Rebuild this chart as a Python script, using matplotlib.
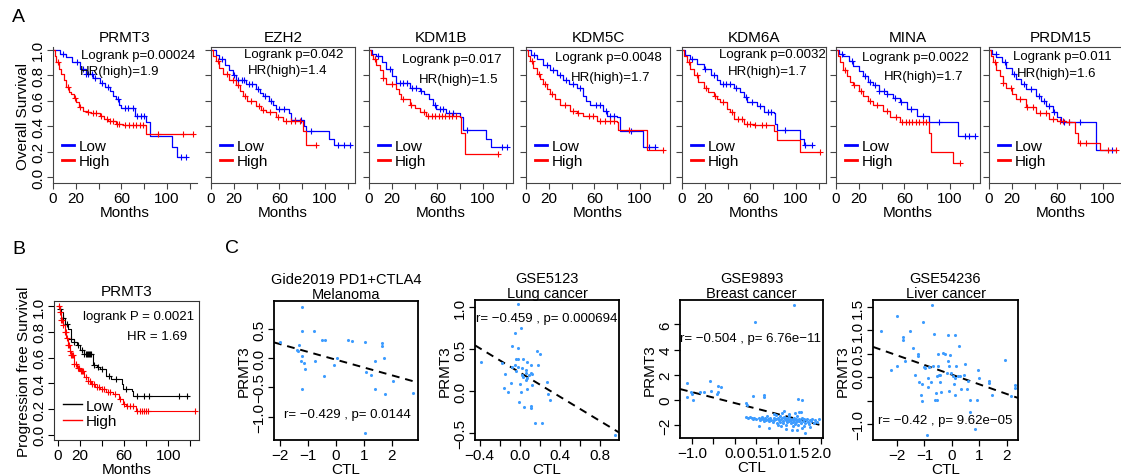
import numpy as np
import matplotlib.pyplot as plt
from matplotlib.lines import Line2D

plt.rcParams['font.family'] = ['Liberation Sans', 'DejaVu Sans']

W, H = 1121, 477

# ---------------- panel A: overall survival, (months, survival) steps ----------------
genes_a = ['PRMT3', 'EZH2', 'KDM1B', 'KDM5C', 'KDM6A', 'MINA', 'PRDM15']
logrank_a = ['0.00024', '0.042', '0.017', '0.0048', '0.0032', '0.0022', '0.011']
hr_a = ['1.9', '1.4', '1.5', '1.7', '1.7', '1.7', '1.6']

prmt3_low = [(0, 1.0), (6, 0.97), (11.7, 0.94), (17, 0.90), (23.4, 0.85), (29, 0.81), (35, 0.78),
             (41, 0.74), (46, 0.71), (50, 0.68), (53, 0.64), (55.5, 0.61), (58, 0.57), (60, 0.54),
             (71.6, 0.48), (82, 0.43), (84.8, 0.32), (104.7, 0.235), (108.8, 0.157), (117, 0.157)]
prmt3_high = [(0, 1.0), (1.5, 0.95), (2.9, 0.90), (5, 0.85), (7.3, 0.81), (9.5, 0.76), (11.7, 0.71),
              (14, 0.67), (16, 0.65), (18, 0.62), (20.5, 0.59), (23, 0.55), (26.3, 0.52), (30, 0.51),
              (33.6, 0.50), (41, 0.48), (45, 0.46), (48, 0.44), (55, 0.42), (61.4, 0.41), (81.9, 0.34),
              (123, 0.34)]
ezh2_low = [(0, 1.0), (4, 0.96), (7.3, 0.93), (12, 0.88), (16, 0.84), (19, 0.80), (22, 0.76), (30.7, 0.73),
            (39.5, 0.69), (43, 0.66), (45.3, 0.64), (51, 0.60), (54, 0.57), (57, 0.535), (68.7, 0.50),
            (70, 0.45), (81.9, 0.405), (83.3, 0.36), (103.8, 0.30), (108, 0.25), (122.8, 0.25)]
ezh2_high = [(0, 1.0), (2, 0.95), (4.4, 0.91), (7, 0.86), (10.2, 0.81), (16, 0.76), (22, 0.72), (25, 0.68),
             (27.8, 0.64), (32, 0.60), (39.5, 0.56), (44, 0.53), (48, 0.51), (57, 0.47), (62.9, 0.44),
             (81, 0.366), (83.3, 0.25), (92, 0.25)]
kdm1b_low = [(0, 1.0), (3, 0.97), (6.4, 0.95), (11, 0.90), (15.2, 0.85), (20, 0.79), (24, 0.74), (35.7, 0.70),
             (44.4, 0.68), (48, 0.65), (53, 0.61), (56, 0.57), (59, 0.535), (67.8, 0.50), (79.5, 0.47),
             (82.5, 0.37), (103, 0.30), (107, 0.235), (121, 0.235)]
kdm1b_high = [(0, 1.0), (1.5, 0.96), (3.5, 0.93), (6, 0.88), (9.4, 0.84), (12, 0.78), (15.2, 0.73), (24, 0.69),
              (26, 0.65), (28.4, 0.61), (35.7, 0.57), (40, 0.54), (44.4, 0.51), (50, 0.48), (79.5, 0.47),
              (81, 0.35), (84, 0.18), (113, 0.18)]
kdm5c_low = [(0, 1.0), (4, 0.96), (9.4, 0.93), (15, 0.88), (21, 0.84), (27, 0.80), (32.7, 0.76), (38, 0.73),
             (44.4, 0.70), (50.3, 0.64), (53, 0.60), (56, 0.57), (67.8, 0.52), (70.8, 0.48), (79.5, 0.47),
             (82.5, 0.36), (103, 0.235), (113, 0.235)]
kdm5c_high = [(0, 1.0), (1.5, 0.95), (3.5, 0.91), (6, 0.86), (9.4, 0.81), (12, 0.77), (15.2, 0.73), (18, 0.69),
              (21, 0.65), (25, 0.61), (29.8, 0.57), (38.6, 0.52), (45, 0.50), (50.3, 0.48), (62, 0.44),
              (79.5, 0.43), (81, 0.37), (106, 0.21), (120, 0.21)]
kdm6a_low = [(0, 1.0), (3, 0.96), (7.3, 0.93), (13, 0.89), (19, 0.85), (25, 0.80), (30.7, 0.76), (33.6, 0.73),
             (45.3, 0.70), (51, 0.67), (54, 0.63), (57, 0.59), (65.8, 0.56), (71.6, 0.51), (80.4, 0.50),
             (81.9, 0.42), (83.3, 0.37), (103.8, 0.30), (106.7, 0.255), (114, 0.255)]
kdm6a_high = [(0, 1.0), (2, 0.95), (4.4, 0.90), (7, 0.85), (10.2, 0.80), (14, 0.75), (19, 0.70), (23, 0.67),
              (27.8, 0.64), (31, 0.61), (33.6, 0.59), (39.5, 0.535), (42.4, 0.51), (45.3, 0.46), (54, 0.42),
              (62.9, 0.41), (80.4, 0.365), (83.3, 0.29), (103.2, 0.20), (121, 0.20)]
mina_low = [(0, 1.0), (3, 0.97), (6.4, 0.95), (11, 0.91), (15.2, 0.87), (20, 0.83), (24, 0.79), (28, 0.75),
            (32.7, 0.72), (38, 0.68), (44.4, 0.65), (50, 0.62), (56, 0.59), (62, 0.535), (70.8, 0.48),
            (81.9, 0.43), (107, 0.32), (122, 0.32)]
mina_high = [(0, 1.0), (1.5, 0.95), (3.5, 0.90), (6, 0.84), (9.4, 0.79), (12, 0.75), (15.2, 0.72), (20, 0.68),
             (24, 0.64), (28, 0.60), (32.7, 0.57), (41.5, 0.52), (47.4, 0.47), (56, 0.43), (81.3, 0.35),
             (83.3, 0.196), (103, 0.11), (108.8, 0.11)]
prdm15_low = [(0, 1.0), (3, 0.97), (6.4, 0.94), (11, 0.90), (15.2, 0.86), (20, 0.81), (24, 0.77), (28, 0.73),
              (32.7, 0.69), (41.5, 0.64), (46, 0.60), (50.3, 0.56), (56, 0.51), (60, 0.47), (63.5, 0.43),
              (94.2, 0.21), (111.7, 0.21)]
prdm15_high = [(0, 1.0), (1.5, 0.95), (3.5, 0.90), (6, 0.84), (9.4, 0.79), (12, 0.74), (15.2, 0.70), (20, 0.65),
               (24, 0.61), (32.7, 0.55), (41.5, 0.50), (53, 0.46), (60, 0.44), (67.8, 0.43), (75, 0.35),
               (78, 0.27), (97, 0.21), (111.7, 0.21)]

low_a = [prmt3_low, ezh2_low, kdm1b_low, kdm5c_low, kdm6a_low, mina_low, prdm15_low]
high_a = [prmt3_high, ezh2_high, kdm1b_high, kdm5c_high, kdm6a_high, mina_high, prdm15_high]

# censoring times (months)
cens_low_a = [
    [9, 21, 26, 29, 31, 34, 37, 43, 48, 57, 63, 66, 70, 74, 77, 80, 112, 117],
    [10, 20, 24, 27, 29, 33, 36, 41, 47, 53, 60, 64, 74, 79, 88, 111, 117, 122],
    [8, 18, 27, 30, 33, 38, 41, 46, 58, 62, 65, 70, 74, 86, 117, 121],
    [7, 18, 24, 30, 35, 41, 47, 61, 65, 70, 74, 77, 92, 108, 113],
    [9, 20, 28, 36, 39, 42, 47, 56, 61, 68, 75, 78, 90, 108, 114],
    [5, 14, 25, 30, 34, 38, 42, 45, 52, 57, 66, 76, 90, 113, 117, 122],
    [6, 14, 22, 31, 37, 44, 48, 53, 57, 66, 70, 80, 108],
]
cens_high_a = [
    [4, 13, 19, 24, 31, 35, 38, 42, 47, 50, 53, 56, 58, 63, 67, 70, 73, 76, 79, 92, 114, 123],
    [6, 14, 19, 24, 30, 35, 42, 46, 52, 59, 66, 70, 74, 78, 92],
    [5, 12, 20, 30, 37, 48, 52, 55, 58, 61, 64, 67, 70, 73, 76, 113],
    [5, 11, 17, 23, 34, 41, 46, 55, 59, 65, 69, 74, 77, 90, 120],
    [6, 13, 21, 29, 36, 44, 49, 53, 57, 60, 64, 70, 74, 121],
    [8, 16, 22, 30, 36, 45, 53, 58, 61, 64, 67, 70, 73, 76, 79, 109],
    [5, 12, 19, 27, 33, 39, 45, 50, 56, 62, 65, 70, 80, 85, 104, 111],
]

# ---------------- panel B: progression free survival ----------------
b_low = [(0, 1.0), (1.5, 0.98), (3, 0.956), (4.5, 0.91), (6, 0.865), (9, 0.826), (12, 0.747), (14.5, 0.72),
         (17, 0.695), (20, 0.656), (24, 0.63), (32, 0.539), (35, 0.525), (38, 0.513), (44, 0.46), (48, 0.435),
         (58, 0.396), (59, 0.357), (67, 0.344), (68, 0.305), (118, 0.305)]
b_high = [(0, 1.0), (1.5, 0.956), (3, 0.89), (4.5, 0.85), (6, 0.80), (7.5, 0.75), (9, 0.695), (10.5, 0.65),
          (12, 0.617), (15, 0.552), (17.5, 0.52), (20, 0.50), (24, 0.448), (27, 0.42), (30, 0.396), (34, 0.375),
          (38, 0.357), (44, 0.33), (50, 0.318), (55, 0.279), (59, 0.24), (62, 0.227), (71, 0.188), (124, 0.188)]
b_cens_low = [2, 5, 8, 12, 15, 18, 22, 24, 25, 26, 27, 28, 29, 30, 33, 36, 40, 46, 53, 62, 72, 78, 83, 110, 117]
b_cens_high = [1, 2, 3, 4, 5, 6, 7, 8, 9, 10, 11, 12, 13, 14, 15, 16, 18, 19, 21, 22, 23, 25, 27, 29, 31, 33,
               35, 37, 40, 42, 45, 47, 52, 56, 60, 63, 65, 68, 72, 74, 76, 78, 80, 82, 124]

# ---------------- panel C: PRMT3 vs CTL scatter ----------------
c_titles = ['Gide2019 PD1+CTLA4\nMelanoma', 'GSE5123\nLung cancer', 'GSE9893\nBreast cancer',
            'GSE54236\nLiver cancer']
c_stats = ['r= \u22120.429 , p= 0.0144', 'r= \u22120.459 , p= 0.000694', 'r= \u22120.504 , p= 6.76e\u221211',
           'r= \u22120.42 , p= 9.62e\u221205']
c_fit = [(-0.134, -0.024), (-0.72, 0.223), (-0.874, -0.249), (-0.207, 0.055)]   # slope, intercept

mel_x = [-2.00, -1.21, -1.19, -0.77, -1.31, -1.38, -1.33, -1.21, -1.23, -1.14, -1.11, -0.74, -1.19, -0.50,
         -0.39, -0.06, -0.43, 0.05, 0.44, 0.58, 1.04, 1.07, 1.27, 1.39, 1.39, 1.65, 1.65, 1.73, 2.05, 1.77,
         2.74, 1.04]
mel_y = [0.27, 0.88, 0.46, 0.46, 0.23, 0.14, 0.13, 0.04, -0.04, -0.09, -0.19, -0.04, -0.52, 0.31, 0.32,
         -0.11, -0.30, 0.01, 0.31, 0.30, 0.28, -0.24, -0.28, -0.04, -0.52, 0.26, 0.21, 0.00, -0.39, -0.61,
         -0.60, -1.28]

lung_x = [-0.02, 0.01, -0.05, -0.08, -0.02, -0.39, -0.18, -0.15, -0.16, -0.12, -0.09, -0.04, -0.02, 0.03,
          -0.05, -0.02, -0.08, 0.07, 0.11, 0.02, 0.06, -0.04, 0.06, 0.11, 0.12, 0.03, 0.07, 0.09, 0.00, 0.12,
          0.07, 0.01, -0.01, 0.04, 0.11, 0.11, 0.17, 0.20, 0.18, 0.27, 0.28, 0.30, 0.15, 0.22, 0.95, 0.06, 0.02]
lung_y = [1.03, 0.75, 0.69, 0.54, 0.51, 0.35, 0.33, 0.20, 0.04, -0.01, 0.10, 0.38, 0.38, 0.38, 0.31, 0.29,
          0.29, 0.35, 0.31, 0.27, 0.25, 0.24, 0.21, 0.21, 0.20, 0.17, 0.15, 0.19, 0.08, 0.07, 0.02, -0.01,
          -0.13, -0.19, -0.18, -0.20, 0.48, 0.44, 0.31, 0.11, -0.04, -0.11, -0.38, -0.38, -0.52, 0.13, 0.19]

breast_x = [-1.12, -1.12, -1.02, -0.97, -1.00, -0.81, -0.71, -0.58, -0.56, -0.39, -0.42, -0.39, -0.33,
            0.41, 0.67, 0.67, 0.26, 0.28, 1.47, 1.57, 1.53, 0.47, 1.38,
            0.25, 0.30, 0.35, 0.40, 0.45, 0.42, 0.50, 0.55, 0.58, 0.60, 0.62, 0.65, 0.68, 0.70, 0.72, 0.75,
            0.78, 0.80, 0.82, 0.85, 0.88, 0.90, 0.92, 0.95, 0.96, 0.98, 1.00, 1.02, 1.04, 1.05, 1.07, 1.08,
            1.10, 1.12, 1.13, 1.15, 1.16, 1.18, 1.20, 1.21, 1.22, 1.24, 1.25, 1.26, 1.28, 1.30, 1.31, 1.33,
            1.34, 1.35, 1.37, 1.38, 1.40, 1.41, 1.43, 1.44, 1.45, 1.47, 1.48, 1.50, 1.52, 1.53, 1.55, 1.57,
            1.58, 1.60, 1.62, 1.63, 1.65, 1.68, 1.70, 1.72, 1.75, 1.78, 1.80, 1.83, 1.86, 1.90, 1.95, 1.10,
            1.25, 0.90, 1.40, 0.55, 0.80, 1.00, 1.20, 1.45, 1.35, 1.60, 1.75, 1.15, 1.50]
breast_y = [0.21, 1.35, 0.61, 0.03, 0.48, 0.61, 0.61, 1.53, 0.69, 0.61, 0.48, 1.14, 1.00,
            0.29, 0.42, 0.21, -0.24, -0.40, 0.08, 0.03, -0.93, 6.20, 7.54,
            -1.35, -1.40, -1.38, -1.45, -1.40, -1.55, -1.50, -1.42, -1.60, -1.48, -1.35, -1.55, -1.70, -1.45,
            -1.60, -1.30, -1.52, -1.65, -1.40, -1.58, -1.75, -1.45, -1.62, -1.20, -1.50, -1.85, -1.40, -1.60,
            -1.72, -1.30, -1.55, -2.10, -1.45, -1.65, -1.80, -1.35, -1.52, -1.95, -1.60, -1.42, -1.75, -1.55,
            -1.25, -1.68, -1.48, -1.85, -1.60, -2.40, -1.50, -1.72, -1.40, -1.62, -1.90, -1.55, -1.78, -1.30,
            -1.65, -2.00, -1.50, -1.70, -1.58, -1.85, -1.45, -2.20, -1.68, -1.55, -1.80, -2.65, -1.62, -1.50,
            -1.75, -1.90, -1.60, -1.70, -1.50, -1.80, -1.62, -1.72, -1.55, -1.00, -1.10, -1.15, -1.05, -2.10,
            -2.20, -2.00, -2.30, -2.35, -2.05, -2.05, -2.15, -0.90, -0.95]

liver_x = [-2.58, -2.21, -1.98, -2.00, -1.79, -1.78, -1.53, -1.43, -1.70, -1.24, -1.24, -1.05, -1.33, -1.19,
           -1.09, -1.12, -1.09, -1.03, -0.97, -0.85, -0.88, -0.88, -0.75, -0.70, -0.73, -0.64, -0.58, -0.63,
           -0.55, -0.55, -0.51, -0.48, -0.42, -0.51, -0.34, -0.42, -0.40, -0.24, -0.15, -0.15, -0.18, -0.12,
           -0.10, -0.06, -0.02, 0.04, 0.10, 0.10, 0.06, 0.12, 0.15, 0.24, 0.22, 0.30, 0.42, 0.46, 0.33, 0.55,
           0.67, 0.58, 0.90, 0.95, 1.00, 0.67, 0.85, 1.36, 1.36, 1.45, 1.94, 2.28, 2.30, 2.16, -0.91]
liver_y = [0.98, 0.16, 0.24, 1.30, 0.85, 0.80, 0.98, 0.62, 0.35, 0.49, 0.46, 1.17, 0.04, -0.11, -0.15, -0.38,
           -0.51, 0.21, 0.19, 0.21, -0.01, -0.20, -0.11, 0.23, 1.54, 0.92, -0.33, -0.49, -0.49, 0.03, 0.24,
           0.05, 0.05, 0.49, 0.51, -0.10, -0.31, 0.49, 0.90, 0.35, 0.10, -0.29, 0.24, 0.47, 0.10, 0.03, 0.90,
           -0.01, -0.15, -0.38, 0.24, 0.66, 0.03, 0.03, 0.05, 0.28, -0.26, -0.26, -0.49, -0.09, -0.49, 0.16,
           -0.01, -0.74, -1.10, -0.08, -0.13, -0.38, 0.36, -0.17, -0.22, -0.40, -1.23]

c_x = [mel_x, lung_x, breast_x, liver_x]
c_y = [mel_y, lung_y, breast_y, liver_y]


def px_axes(fig, left, top, right, bottom):
    return fig.add_axes([left / W, 1 - bottom / H, (right - left) / W, (bottom - top) / H])


def surv_at(curve, times):
    t = np.array([p[0] for p in curve])
    s = np.array([p[1] for p in curve])
    idx = np.searchsorted(t, times, side='right') - 1
    return s[np.clip(idx, 0, len(s) - 1)]


def draw_km(ax, curve, cens, color, lw=0.9):
    t = [p[0] for p in curve]
    s = [p[1] for p in curve]
    ax.step(t, s, where='post', color=color, lw=lw)
    ax.plot(cens, surv_at(curve, cens), '+', color=color, ms=4, mew=0.8, ls='none')


fig = plt.figure(figsize=(W / 100, H / 100), dpi=100)

# ---- A ----
a_lefts = [53, 211, 369, 526, 682, 836, 989]
a_text_pos = [((74.6, 0.962), (58.8, 0.833)), ((72.8, 0.966), (67.5, 0.84)), ((72.8, 0.927), (79, 0.77)),
              ((71.9, 0.943), (74.6, 0.785)), ((78.9, 0.966), (75.4, 0.83)), ((69.3, 0.943), (77.2, 0.794)),
              ((64, 0.95), (59.6, 0.82))]
for i, g in enumerate(genes_a):
    ax = px_axes(fig, a_lefts[i], 48, a_lefts[i] + 144, 184)
    draw_km(ax, low_a[i], cens_low_a[i], '#0000ff')
    draw_km(ax, high_a[i], cens_high_a[i], '#ff0000')
    ax.set_xlim(0, 126.3)
    ax.set_ylim(-0.045, 1.021)
    ax.set_xticks(range(0, 121, 20))
    ax.set_xticklabels(['0', '20', '', '60', '', '100', ''])
    ax.set_yticks([0, 0.2, 0.4, 0.6, 0.8, 1.0])
    if i == 0:
        ax.set_yticklabels(['0.0', '0.2', '0.4', '0.6', '0.8', '1.0'], rotation=90, va='center')
        ax.set_ylabel('Overall Survival', fontsize=11, labelpad=1)
        ax.spines['top'].set_visible(False)
        ax.spines['right'].set_visible(False)
    else:
        ax.set_yticklabels([])
    for sp in ax.spines.values():
        sp.set_color('#444444')
        sp.set_linewidth(0.8)
    ax.tick_params(length=4, width=0.8, color='#444444', labelsize=11, pad=1.5)
    ax.set_xlabel('Months', fontsize=11, labelpad=0)
    ax.set_title(g, fontsize=11, pad=4)
    (lx, ly), (hx, hy) = a_text_pos[i]
    ax.text(lx, ly, 'Logrank p=' + logrank_a[i], fontsize=9.5, ha='center', va='center')
    ax.text(hx, hy, 'HR(high)=' + hr_a[i], fontsize=9.5, ha='center', va='center')
    hands = [Line2D([], [], color='#0000ff', lw=2), Line2D([], [], color='#ff0000', lw=2)]
    ax.legend(hands, ['Low', 'High'], loc='lower left', frameon=False, fontsize=11, handlelength=0.8,
              handletextpad=0.3, labelspacing=0.1, borderaxespad=0.2, bbox_to_anchor=(0.0, 0.04))

# ---- B ----
ax = px_axes(fig, 54, 302, 199, 441)
draw_km(ax, b_low, b_cens_low, 'black', lw=0.8)
draw_km(ax, b_high, b_cens_high, 'red', lw=0.8)
ax.set_xlim(-3.6, 128)
ax.set_ylim(-0.04, 1.04)
ax.set_xticks(range(0, 121, 20))
ax.set_xticklabels(['0', '20', '', '60', '', '100', ''])
ax.set_yticks([0, 0.2, 0.4, 0.6, 0.8, 1.0])
ax.set_yticklabels(['0.0', '0.2', '0.4', '0.6', '0.8', '1.0'], rotation=90, va='center')
ax.tick_params(length=4, width=0.8, labelsize=11, pad=1.5)
for sp in ax.spines.values():
    sp.set_linewidth(0.8)
    sp.set_color('#333333')
ax.set_xlabel('Months', fontsize=11, labelpad=0)
ax.set_ylabel('Progression free Survival', fontsize=11, labelpad=1)
ax.set_title('PRMT3', fontsize=11, pad=4)
ax.text(124, 0.92, 'logrank P = 0.0021', fontsize=9.5, ha='right', va='center')
ax.text(117, 0.77, 'HR = 1.69', fontsize=9.5, ha='right', va='center')
hands = [Line2D([], [], color='black', lw=1), Line2D([], [], color='red', lw=1)]
ax.legend(hands, ['Low', 'High'], loc='lower left', frameon=False, fontsize=11, handlelength=1.2,
          handletextpad=0.3, labelspacing=0.1, borderaxespad=0.2, bbox_to_anchor=(0.0, 0.02))

# ---- C ----
c_boxes = [(274, 302, 418, 441), (475, 301, 619, 441), (680, 301, 823, 439), (873, 301, 1018, 441)]
c_xlim = [(-2.2, 2.93), (-0.445, 0.995), (-1.28, 2.05), (-2.87, 2.40)]
c_ylim = [(-1.40, 0.98), (-0.583, 1.083), (-3.02, 7.94), (-1.34, 1.65)]
c_xticks = [[-2, -1, 0, 1, 2], [-0.4, -0.2, 0.0, 0.2, 0.4, 0.6, 0.8], [-1.0, -0.5, 0.0, 0.5, 1.0, 1.5, 2.0],
            [-2, -1, 0, 1, 2]]
c_xticklabels = [['\u22122', '\u22121', '0', '1', '2'], ['\u22120.4', '', '0.0', '', '0.4', '', '0.8'],
                 ['\u22121.0', '', '0.0', '0.5', '1.0', '1.5', '2.0'], ['\u22122', '\u22121', '0', '1', '2']]
c_yticks = [[-1.0, -0.5, 0.0, 0.5], [-0.5, 0.0, 0.5, 1.0], [-2, 0, 2, 4, 6], [-1.0, -0.5, 0.0, 0.5, 1.0, 1.5]]
c_yticklabels = [['\u22121.0', '\u22120.5', '0.0', '0.5'], ['\u22120.5', '0.0', '0.5', '1.0'],
                 ['\u22122', '0', '2', '4', '6'], ['\u22121.0', '', '0.0', '0.5', '1.0', '1.5']]
c_text_pos = [(0.43, -0.95), (0.275, 0.87), (0.37, 4.9), (-0.25, -0.92)]
for i in range(4):
    ax = px_axes(fig, *c_boxes[i])
    ax.scatter(c_x[i], c_y[i], s=5, color='#3d9cff', linewidths=0, zorder=3)
    slope, icpt = c_fit[i]
    xs = np.array(c_xlim[i])
    ax.plot(xs, icpt + slope * xs, color='black', lw=1.4, ls=(0, (4, 3)))
    ax.set_xlim(*c_xlim[i])
    ax.set_ylim(*c_ylim[i])
    ax.set_xticks(c_xticks[i])
    ax.set_xticklabels(c_xticklabels[i])
    ax.set_yticks(c_yticks[i])
    ax.set_yticklabels(c_yticklabels[i], rotation=90, va='center')
    ax.tick_params(length=4, width=0.9, labelsize=11, pad=1.5)
    for sp in ax.spines.values():
        sp.set_linewidth(1.3)
    ax.set_xlabel('CTL', fontsize=11, labelpad=0)
    ax.set_ylabel('PRMT3', fontsize=11, labelpad=1)
    ax.set_title(c_titles[i], fontsize=10.5, pad=1, linespacing=1.1)
    ax.text(c_text_pos[i][0], c_text_pos[i][1], c_stats[i], fontsize=9.5, ha='center', va='center')

fig.text(12 / W, 1 - 17 / H, 'A', fontsize=14, va='center')
fig.text(12 / W, 1 - 250 / H, 'B', fontsize=14, va='center')
fig.text(225 / W, 1 - 249 / H, 'C', fontsize=14, va='center')

fig.savefig('out.png', dpi=100)
